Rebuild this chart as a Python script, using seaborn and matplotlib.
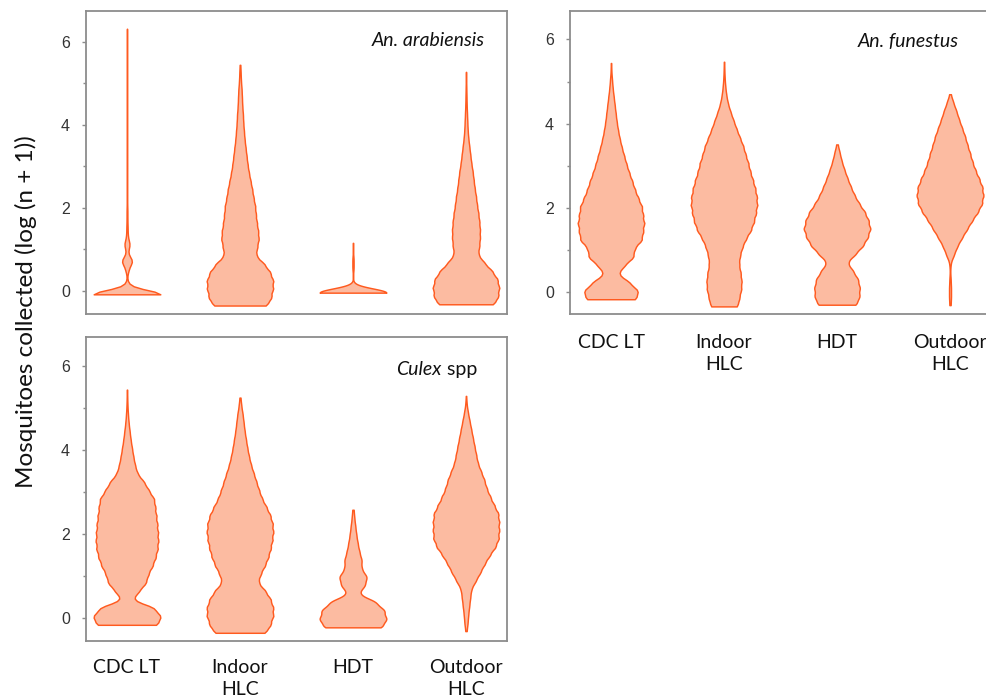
import numpy as np
import pandas as pd
import matplotlib
matplotlib.use("Agg")
import matplotlib.pyplot as plt
from matplotlib.ticker import FixedLocator
import seaborn as sns

# ---------------- data ----------------
METHODS = ["CDC LT", "Indoor HLC", "HDT", "Outdoor HLC"]
TICK_LABELS = ["CDC LT", "Indoor\nHLC", "HDT", "Outdoor\nHLC"]
PANEL_TITLES = ["An. arabiensis", "An. funestus", "Culex"]
Y_TICKS = [0, 2, 4, 6]
Y_MINOR = [1, 3, 5]

# Each violin: lowest log(n+1) level, then relative frequency (in % of the
# widest level) at successive levels spaced LEVEL_STEP apart.
LEVEL_STEP = 0.2

ARA_BOTTOMS = [-0.08, -0.35, -0.04, -0.32]
ARA_CDC = [100, 5, 0, 4, 14, 2, 7, 2, 1.5, 1, 1, 0.5, 0.5, 0.3, 0.3, 0.2,
           0.2, 0.1, 0.1, 0.1, 0.1, 0.1, 0.1, 0.1, 0.1, 0.1, 0.1, 0.1, 0.1,
           0.1, 0.1, 0.1, 0.1]
ARA_INDOOR = [85, 95, 100, 101, 92, 74, 48, 52, 57, 55, 51, 48, 46, 41, 37,
              32, 27, 23, 20, 17, 14, 12, 10, 9, 7, 6, 5, 3, 2, 1]
ARA_HDT = [100, 0, 0, 1.5, 1.5, 0, 0.5]
ARA_OUTDOOR = [88, 97, 100, 95, 79, 55, 36, 40, 42, 42, 40, 37, 33, 30, 26,
               23, 20, 16, 13, 10, 7, 5, 4, 3, 2, 1.5, 1, 0.5, 0.3]

FUN_BOTTOMS = [-0.16, -0.33, -0.29, -0.30]
FUN_CDC = [78, 81, 55, 20, 40, 68, 69, 92, 95, 99, 95, 92, 81, 71, 63, 54,
           46, 39, 32, 26, 21, 17, 14, 11, 8, 5, 3, 1, 0.5]
FUN_INDOOR = [42, 46, 52, 53, 50, 45, 48, 55, 66, 81, 90, 96, 100, 99, 94,
              87, 79, 73, 65, 58, 48, 38, 29, 20, 12, 7, 4, 2, 1, 0.5]
FUN_HDT = [60, 67, 68, 63, 48, 30, 55, 78, 92, 100, 94, 83, 66, 52, 41, 31,
           22, 14, 8, 2]
FUN_OUTDOOR = [2, 3, 3, 2, 0.5, 2, 12, 22, 36, 51, 66, 83, 96, 100, 97, 87,
               76, 67, 60, 52, 45, 36, 27, 19, 10, 2]

CUL_BOTTOMS = [-0.17, -0.36, -0.23, -0.32]
CUL_CDC = [95, 101, 83, 15, 36, 57, 63, 76, 85, 91, 93, 92, 90, 87, 84, 81,
           65, 51, 31, 24, 19, 15, 11, 8, 5, 3, 1.5, 0.8, 0.4]
CUL_INDOOR = [80, 92, 100, 100, 92, 76, 54, 62, 75, 85, 92, 97, 100, 98, 91,
              79, 66, 57, 49, 41, 33, 27, 22, 18, 14, 11, 8, 4, 1.5]
CUL_HDT = [90, 100, 94, 69, 16, 36, 42, 25, 26, 19, 14, 10, 7, 4, 2]
CUL_OUTDOOR = [2, 5, 7, 10, 13, 16, 30, 44, 57, 72, 90, 100, 101, 101, 99, 86,
               74, 63, 56, 46, 36, 31, 26, 21, 16, 11, 6, 2, 0.5]

# ---------------- styling ----------------
FILL = "#FCBBA1"
EDGE = "#FF5A1F"
FRAME = "#8c8c8c"
BANDWIDTH = 0.1


def fixed_bw(kde):
    # absolute kernel bandwidth in data units
    return BANDWIDTH / kde.dataset.std(ddof=1)


def long_table(bottoms, widths):
    parts = []
    for method, b, w in zip(METHODS, bottoms, widths):
        levels = b + LEVEL_STEP * np.arange(len(w))
        counts = np.rint(np.asarray(w, dtype=float) * 10).astype(int)
        parts.append(pd.DataFrame({"method": method,
                                   "value": np.repeat(levels, counts)}))
    return pd.concat(parts, ignore_index=True)


panels = [
    (long_table(ARA_BOTTOMS, [ARA_CDC, ARA_INDOOR, ARA_HDT, ARA_OUTDOOR]),
     [0.0871, 0.5508, 0.4266, 0.4339], (-0.554, 6.754), False, 12),
    (long_table(FUN_BOTTOMS, [FUN_CDC, FUN_INDOOR, FUN_HDT, FUN_OUTDOOR]),
     [0.5775, 0.5508, 0.4266, 0.4339], (-0.51, 6.68), True, 14.5),
    (long_table(CUL_BOTTOMS, [CUL_CDC, CUL_INDOOR, CUL_HDT, CUL_OUTDOOR]),
     [0.0871, 0.0830, 0.4266, 0.4345], (-0.555, 6.676), True, 12.8),
]

fig = plt.figure(figsize=(9.87, 6.99), dpi=100)
axes = []
for df, rect, ylim, show_x, xpad in panels:
    ax = fig.add_axes(rect)
    sns.violinplot(data=df, x="method", y="value", order=METHODS, ax=ax,
                   color=FILL, linecolor=EDGE, linewidth=1.05, saturation=1,
                   density_norm="width", cut=0, inner=None, width=0.59,
                   gridsize=100, bw_method=fixed_bw)
    ax.set_xlim(-0.363, 3.363)
    ax.set_ylim(*ylim)
    ax.set_xlabel("")
    ax.set_ylabel("")
    ax.yaxis.set_major_locator(FixedLocator(Y_TICKS))
    ax.yaxis.set_minor_locator(FixedLocator(Y_MINOR))
    ax.set_yticklabels([str(t) for t in Y_TICKS], fontfamily="Liberation Sans")
    ax.tick_params(axis="y", which="major", length=3, width=1, color=FRAME,
                   pad=8.5, labelsize=11.5, labelcolor="#333333")
    ax.tick_params(axis="y", which="minor", length=2, width=1, color=FRAME)
    ax.set_xticks(range(len(METHODS)))
    if show_x:
        ax.set_xticklabels(TICK_LABELS, fontfamily="Lato", linespacing=1.35)
    else:
        ax.set_xticklabels([])
    ax.tick_params(axis="x", length=0, pad=xpad, labelsize=14,
                   labelcolor="#111111")
    for s in ax.spines.values():
        s.set_color(FRAME)
        s.set_linewidth(1.3)
    axes.append(ax)

title_kw = dict(fontfamily="Lato", fontsize=14, color="#111111", va="center")
axes[0].text(0.948, 0.902, PANEL_TITLES[0], transform=axes[0].transAxes,
             ha="right", style="italic", **title_kw)
axes[1].text(0.924, 0.900, PANEL_TITLES[1], transform=axes[1].transAxes,
             ha="right", style="italic", **title_kw)
t_spp = axes[2].text(0.929, 0.893, " spp", transform=axes[2].transAxes,
                     ha="right", **title_kw)
axes[2].annotate(PANEL_TITLES[2], xy=(0, 0.5), xycoords=t_spp, ha="right",
                 style="italic", **title_kw)

fig.text(0.0265, 0.5536, "Mosquitoes collected (log (n + 1))", rotation=90,
         ha="center", va="center", fontfamily="Lato", fontsize=17.5,
         color="#111111")

fig.savefig("out.png", dpi=100, facecolor="white")
